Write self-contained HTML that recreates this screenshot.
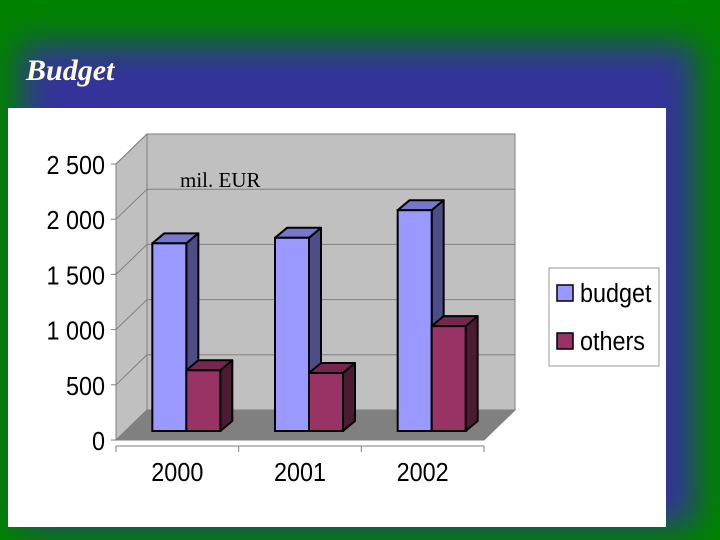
<!DOCTYPE html>
<html><head><meta charset="utf-8"><style>
html,body{margin:0;padding:0;width:720px;height:540px;overflow:hidden;}
body{position:relative;background:#008000;font-family:"Liberation Sans",sans-serif;}
#wrap{position:absolute;left:0;top:0;width:720px;height:540px;overflow:hidden;}
#glow{position:absolute;left:22px;top:45px;width:672px;height:480px;background:#333399;filter:blur(16px);}
#title{position:absolute;left:26px;top:54px;font:italic bold 30px "Liberation Serif",serif;color:#ffffe0;}
#panel{position:absolute;left:8px;top:108px;width:658px;height:419px;background:#fff;}
svg{position:absolute;left:0;top:0;}
</style></head><body>
<div id="wrap">
<div id="glow"></div>
<div id="title">Budget</div>
<div id="panel"></div>
<svg id="chart" width="720" height="540"></svg>
</div>
<script>
const categories=["2000","2001","2002"];
const budget=[1700,1750,2000];
const others=[550,525,950];
const yTicks=[0,500,1000,1500,2000,2500];
const yTickLabels=["0","500","1 000","1 500","2 000","2 500"];
const seriesNames=["budget","others"];

const NS="http://www.w3.org/2000/svg";
const svg=document.getElementById('chart');
function mk(tag,attrs,parent){const e=document.createElementNS(NS,tag);for(const k in attrs)e.setAttribute(k,attrs[k]);(parent||svg).appendChild(e);return e;}
const X0=116,X1=484,Y0=440,DX=31,DY=-30,K=276/2500;
const yFront=v=>Y0-v*K;
const barBase=431;
const yBar=v=>barBase-v*K;
const groupW=(X1-X0)/categories.length;
const xCat=i=>X0+groupW*i+groupW/2;

let p=mk('polygon',{points:`${X0},${yFront(2500)} ${X0+DX},${yFront(2500)+DY} ${X0+DX},${Y0+DY} ${X0},${Y0}`,fill:'#c0c0c0',stroke:'#808080'});

p=mk('rect',{x:X0+DX,y:yFront(2500)+DY,width:X1-X0,height:2500*K,fill:'#c0c0c0',stroke:'#808080'});

p=mk('polygon',{points:`${X0},${Y0} ${X0+DX},${Y0+DY} ${X1+DX},${Y0+DY} ${X1},${Y0}`,fill:'#808080',stroke:'#808080'});

yTicks.forEach((v,i)=>{
  if(v>0){
  let g=mk('polyline',{points:`${X0},${yFront(v)} ${X0+DX},${yFront(v)+DY} ${X1+DX},${yFront(v)+DY}`,fill:'none',stroke:'#808080'});
  }
  let t=mk('text',{x:105,y:yFront(v)+10,'text-anchor':'end','font-size':26,fill:'#000',transform:`translate(${105*0.1},0) scale(0.9,1)`});
  t.textContent=yTickLabels[i];
  
  let tk=mk('line',{x1:X0-5,y1:yFront(v),x2:X0,y2:yFront(v),stroke:'#808080'});
  
});
let ax=mk('line',{x1:X0,y1:164,x2:X0,y2:Y0,stroke:'#808080'});

ax=mk('line',{x1:X0,y1:446,x2:X1,y2:446,stroke:'#808080'});

for(let i=0;i<=categories.length;i++){
  let tk=mk('line',{x1:X0+groupW*i,y1:446,x2:X0+groupW*i,y2:452,stroke:'#808080'});
  
}
let ul=mk('text',{x:180,y:187,'font-family':'Liberation Serif,serif','font-size':21});
ul.textContent='mil. EUR';


function bar3d(x,w,v,front,top,side,name){
  const g=mk('g',{});
  
  
  const y=yBar(v),dx=12,dy=-10;
  mk('polygon',{points:`${x+w},${y} ${x+w+dx},${y+dy} ${x+w+dx},${barBase+dy} ${x+w},${barBase}`,fill:side,stroke:'#000','stroke-width':2,'stroke-linejoin':'round'},g);
  mk('polygon',{points:`${x},${y} ${x+dx},${y+dy} ${x+w+dx},${y+dy} ${x+w},${y}`,fill:top,stroke:'#000','stroke-width':2,'stroke-linejoin':'round'},g);
  mk('rect',{x:x,y:y,width:w,height:barBase-y,fill:front,stroke:'#000','stroke-width':2},g);
}
categories.forEach((c,i)=>{
  const cx=xCat(i)+9;
  bar3d(cx-34,34,budget[i],'#9999ff','#7777cc','#4d4d88','bar-budget-'+c);
  bar3d(cx,34,others[i],'#993366','#772650','#4d1a33','bar-others-'+c);
  let t=mk('text',{x:xCat(i),y:481,'text-anchor':'middle','font-size':26,transform:`translate(${xCat(i)*0.1},0) scale(0.9,1)`});
  t.textContent=c;
  
});
const lg=mk('g',{});

mk('rect',{x:549,y:268,width:110,height:98,fill:'#fff',stroke:'#999'},lg);
const cols=['#9999ff','#993366'];
seriesNames.forEach((n,i)=>{
  const e=mk('g',{},lg);
  
  mk('rect',{x:557,y:285+i*48,width:16,height:16,fill:cols[i],stroke:'#000','stroke-width':1.5},e);
  const t=mk('text',{x:580,y:302+i*48,'font-size':26,transform:`translate(${580*0.1},0) scale(0.9,1)`},e);t.textContent=n;
});
</script>
</body></html>
